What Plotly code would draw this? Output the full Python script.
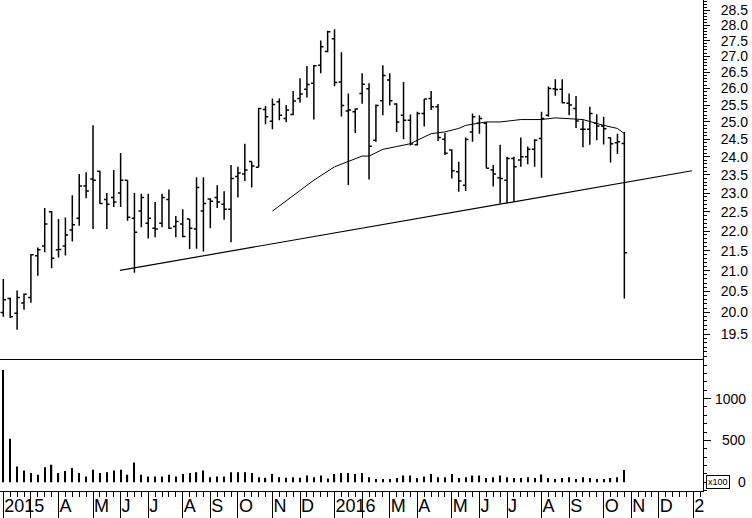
import plotly.graph_objects as go
import numpy as np

# weekly bars, Feb 2015 - Oct 2016 (x = trading-week index)
opens = [20.0, 20.33, 19.98, 20.22, 20.35, 21.37, 21.62, 22.5, 21.52, 21.62,
         22.03, 22.33, 23.19, 23.38, 23.6, 22.83, 22.88, 23.0, 23.35, 22.33,
         22.52, 22.2, 22.07, 22.2, 22.83, 22.12, 22.18, 22.31, 22.05, 22.52,
         22.84, 22.88, 22.7, 22.57, 23.45, 23.52, 23.87, 23.71, 25.37, 25.02,
         25.6, 25.1, 25.22, 25.7, 25.98, 26.16, 26.72, 27.15, 27.56, 26.2,
         25.32, 25.3, 25.85, 25.99, 24.47, 25.63, 26.26, 25.53, 25.2, 25.05,
         24.34, 25.25, 25.7, 25.45, 24.5, 24.19, 23.58, 23.21, 24.71, 24.96,
         24.96, 23.63, 23.42, 23.35, 23.95, 23.91, 24.0, 24.21, 24.52, 25.2,
         25.99, 25.98, 25.55, 25.4, 24.79, 24.79, 24.96, 24.88, 24.54, 24.4,
         24.38]
highs = [20.8, 20.35, 20.52, 20.45, 21.41, 21.58, 22.6, 22.52, 22.31, 22.35,
         22.94, 23.52, 23.57, 24.9, 23.61, 23.0, 23.63, 24.11, 23.35, 23.0,
         22.98, 22.98, 22.76, 22.98, 23.1, 22.39, 22.57, 22.31, 23.43, 23.43,
         22.86, 23.21, 23.05, 23.77, 23.72, 24.37, 23.87, 25.42, 25.47, 25.7,
         25.7, 25.5, 25.92, 26.31, 26.69, 26.72, 27.5, 27.82, 27.87, 27.13,
         25.85, 25.4, 26.47, 26.16, 25.52, 26.72, 26.47, 25.55, 26.2, 25.22,
         25.3, 25.68, 25.92, 25.53, 24.68, 24.21, 23.86, 24.55, 25.25, 25.2,
         25.0, 23.77, 24.34, 24.0, 24.0, 24.55, 24.29, 24.5, 25.3, 26.06,
         26.28, 26.28, 25.85, 25.77, 25.05, 25.45, 25.23, 25.15, 24.55, 24.66,
         24.71]
lows = [19.9, 19.87, 19.6, 20.06, 20.23, 20.88, 21.46, 21.06, 21.33, 21.38,
        21.73, 22.14, 22.86, 22.05, 22.71, 22.05, 22.63, 22.63, 22.27, 20.95,
        22.1, 21.81, 21.84, 22.1, 22.05, 21.84, 21.84, 21.54, 21.55, 21.48,
        22.07, 22.6, 22.29, 21.71, 22.88, 23.33, 23.15, 23.71, 24.93, 24.79,
        25.05, 24.99, 25.2, 25.57, 25.73, 25.07, 26.47, 27.13, 26.07, 25.16,
        23.22, 24.68, 25.54, 23.37, 24.43, 25.2, 25.49, 24.71, 24.5, 24.32,
        24.32, 24.87, 25.35, 24.45, 24.05, 23.4, 23.04, 23.06, 24.43, 24.66,
        23.68, 23.18, 22.72, 22.72, 22.76, 23.72, 23.79, 23.72, 23.42, 25.15,
        25.78, 25.55, 25.2, 24.82, 24.27, 24.34, 24.47, 24.35, 23.84, 24.08,
        20.33]
closes = [20.3, 19.9, 20.35, 20.43, 21.4, 21.52, 22.18, 21.31, 21.53, 21.9,
          22.16, 23.19, 23.06, 23.35, 22.72, 22.7, 22.76, 23.35, 22.36, 21.97,
          22.88, 22.33, 22.05, 22.88, 22.07, 22.25, 21.86, 22.07, 23.15, 22.72,
          22.78, 22.76, 22.57, 23.4, 23.55, 23.63, 23.74, 25.4, 25.15, 25.52,
          25.2, 25.35, 25.62, 25.83, 26.12, 26.7, 27.3, 27.79, 26.18, 25.49,
          25.35, 25.38, 26.13, 24.3, 25.49, 26.4, 25.63, 25.0, 25.05, 24.36,
          25.25, 25.68, 25.45, 24.55, 24.1, 23.61, 23.33, 24.49, 25.15, 25.1,
          23.68, 23.52, 23.4, 23.95, 23.72, 24.0, 24.21, 24.47, 25.1, 26.0,
          25.97, 25.57, 25.5, 25.03, 24.79, 25.25, 24.88, 24.8, 24.37, 24.43,
          21.45]
volume = [1340, 520, 188, 140, 110, 90, 180, 210, 110, 135,
          170, 110, 70, 150, 110, 120, 140, 150, 90, 235,
          90, 70, 70, 70, 90, 70, 100, 110, 120, 140,
          60, 70, 70, 120, 120, 120, 110, 60, 55, 100,
          60, 55, 60, 55, 80, 60, 80, 45, 100, 110,
          110, 100, 110, 60, 40, 40, 40, 52, 80, 80,
          52, 68, 100, 60, 60, 100, 52, 60, 80, 80,
          52, 60, 80, 60, 52, 52, 60, 52, 92, 52,
          40, 52, 60, 40, 60, 52, 40, 40, 52, 60,
          148]

# moving average line (read at its vertices)
ma_week = [39, 42, 45, 48, 50, 52, 53, 55, 57, 59, 60, 62, 64, 66, 67, 70,
           72, 75, 78, 80, 84, 87, 89, 90]
ma_value = [22.52, 22.94, 23.35, 23.72, 23.86, 24.02, 24.02, 24.21, 24.29,
            24.37, 24.47, 24.66, 24.71, 24.81, 24.9, 25.0, 25.0, 25.07, 25.07,
            25.12, 25.07, 24.9, 24.81, 24.66]

# support trendline
trend_week = [16.9, 99.8]
trend_value = [21.01, 23.61]

month_week = [0, 4, 8, 13, 17, 21, 26, 30, 34, 39, 43, 48, 52, 56, 60, 65,
              69, 73, 78, 82, 87, 91, 95, 100]
month_label = ["2015", "", "A", "M", "J", "J", "A", "S", "O", "N", "D",
               "2016", "", "M", "A", "M", "J", "J", "A", "S", "O", "N", "D", "2"]

price_ticks = [19.5, 20.0, 20.5, 21.0, 21.5, 22.0, 22.5, 23.0, 23.5, 24.0,
               24.5, 25.0, 25.5, 26.0, 26.5, 27.0, 27.5, 28.0, 28.5]
vol_ticks = [0, 500, 1000]

week = np.arange(len(closes))
x_range = [-0.48, 101.4]
split = 0.2682
minor_price = [round(v, 1) for v in np.arange(18.9, 28.9, 0.1)]

fig = go.Figure()
fig.add_trace(go.Ohlc(
    x=week, open=opens, high=highs, low=lows, close=closes,
    increasing=dict(line=dict(color='black', width=1.5)),
    decreasing=dict(line=dict(color='black', width=1.5)),
    tickwidth=0.4, hoverinfo='skip'
))
fig.add_trace(go.Scatter(x=ma_week, y=ma_value, mode='lines',
                         line=dict(color='black', width=1)))
fig.add_trace(go.Scatter(x=trend_week, y=trend_value, mode='lines',
                         line=dict(color='black', width=1.2)))
fig.add_trace(go.Bar(x=week, y=volume, width=0.18, xaxis='x2', yaxis='y2',
                     marker=dict(color='black', line=dict(width=0))))

fig.update_layout(
    width=752, height=518,
    margin=dict(l=0, r=49, t=0, b=27),
    paper_bgcolor='white', plot_bgcolor='white',
    showlegend=False,
    font=dict(family='Liberation Sans, Arial, sans-serif', color='black', size=14),
    xaxis=dict(domain=[0, 1], range=x_range, anchor='y', showticklabels=False,
               ticks='', showgrid=False, zeroline=False, showline=True,
               linecolor='black', linewidth=1, rangeslider=dict(visible=False)),
    yaxis=dict(domain=[split, 1], type='log',
               range=[np.log10(18.93), np.log10(28.84)],
               side='right', anchor='x',
               tickvals=price_ticks, ticktext=[f"{v:.1f}" for v in price_ticks],
               ticks='outside', ticklen=6, tickcolor='black', ticklabelstandoff=8,
               showline=True, linecolor='black', showgrid=False, zeroline=False,
               minor=dict(tickvals=minor_price, ticks='outside', ticklen=3,
                          tickcolor='black')),
    xaxis2=dict(domain=[0, 1], range=x_range, anchor='y2',
                tickmode='array', tickvals=month_week, ticktext=month_label,
                ticks='outside', ticklen=27, tickcolor='black', tickangle=0,
                ticklabelposition='outside right', ticklabelstandoff=-2,
                tickfont=dict(size=18),
                showline=True, linecolor='black', showgrid=False, zeroline=False,
                minor=dict(tickmode='linear', tick0=0, dtick=1, ticks='outside',
                           ticklen=5, tickcolor='black')),
    yaxis2=dict(domain=[0, split], range=[-104, 1469], side='right', anchor='x2',
                tickmode='array', tickvals=vol_ticks, showticklabels=False,
                ticks='outside', ticklen=7, tickcolor='black',
                showline=True, linecolor='black', showgrid=False, zeroline=False,
                minor=dict(tickmode='linear', tick0=0, dtick=100, ticks='outside',
                           ticklen=3, tickcolor='black')),
)

# volume labels, right aligned like the original
for v in vol_ticks:
    fig.add_annotation(x=1.0644, xref='paper', y=v, yref='y2', text=str(v),
                       showarrow=False, xanchor='right', yanchor='middle',
                       font=dict(size=14))

fig.add_annotation(x=1.004, xref='paper', y=0.004, yref='paper', text="x100",
                   showarrow=False, xanchor='left', yanchor='bottom',
                   font=dict(size=9), bordercolor='black', borderwidth=1,
                   borderpad=1, bgcolor='white')

fig.write_html("out.html", config={'displayModeBar': False},
               post_script="document.body.style.margin='0px';")
